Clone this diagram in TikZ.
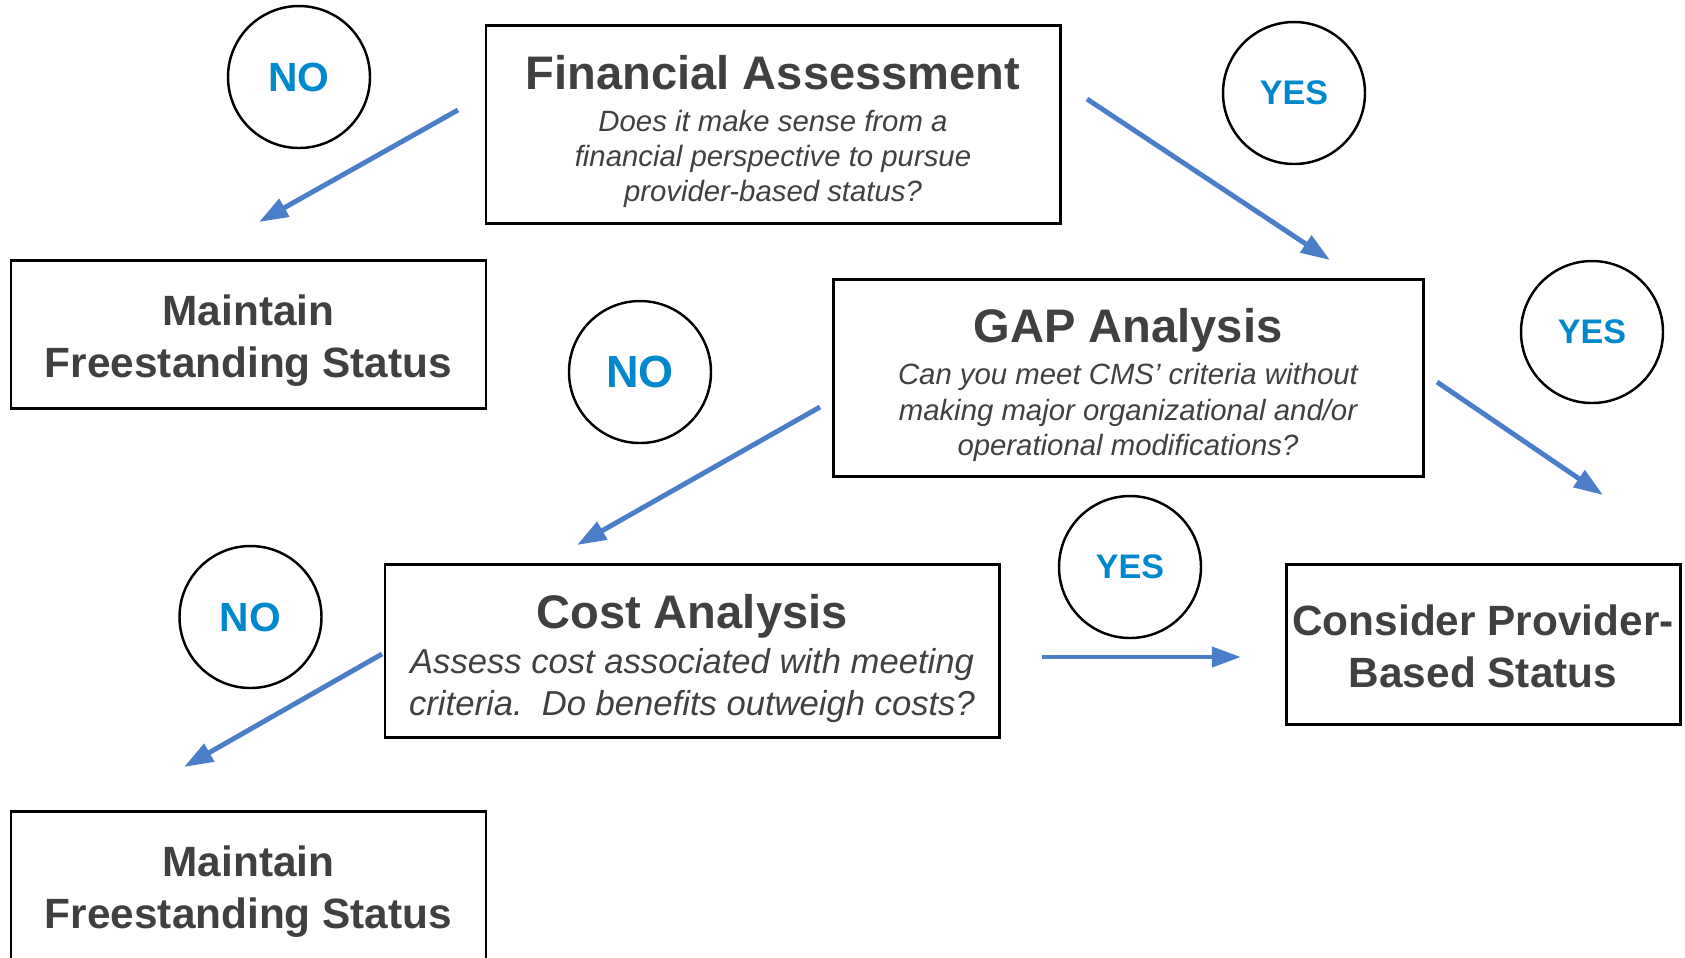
\documentclass[tikz,border=0pt]{standalone}
\usepackage{fontspec}
\setmainfont{Liberation Sans}
\usetikzlibrary{arrows.meta}
\definecolor{inkgray}{HTML}{404040}
\definecolor{answerblue}{HTML}{0088CC}
\definecolor{flowblue}{HTML}{4A7EC8}
\newcommand{\headfont}{\fontsize{13.4}{16}\selectfont\bfseries\upshape}
\newcommand{\topstrut}{\rule{0pt}{1.05em}}
\newcommand{\botstrut}{\rule[-0.212em]{0pt}{0.212em}}

\begin{document}
\begin{tikzpicture}[
    stepbox/.style={rectangle, draw=black, line width=0.85pt, inner sep=0pt, align=center, text=inkgray},
    question/.style={stepbox, font=\fontsize{8.35}{10}\selectfont\itshape},
    outcome/.style={stepbox, font=\fontsize{12.05}{14.7}\selectfont\bfseries},
    answer/.style={circle, draw=black, line width=0.7pt, minimum size=1.42cm, inner sep=0pt,
        text=answerblue, font=\fontsize{#1}{#1}\selectfont\bfseries},
    flow/.style={draw=flowblue, line width=1.4pt, -{Triangle[length=8.3pt, width=5.6pt]}}
]
    \useasboundingbox (0,0) rectangle (16.85,-9.57);

    % Question boxes
    \node[question, minimum width=5.74cm, minimum height=1.98cm] (fa) at (7.73,-1.24)
        {{\headfont\topstrut Financial Assessment}\\[1.95pt]
         Does it make sense from a\\
         financial perspective to pursue\\
         provider-based status?\botstrut};
    \node[question, minimum width=5.90cm, minimum height=1.97cm] (gap) at (11.28,-3.775)
        {{\headfont\topstrut GAP Analysis}\\[1.95pt]
         Can you meet CMS’ criteria without\\
         making major organizational and/or\\
         operational modifications?\botstrut};
    \node[question, font=\fontsize{9.85}{11.95}\selectfont\itshape,
          minimum width=6.14cm, minimum height=1.73cm] (cost) at (6.92,-6.505)
        {{\headfont\topstrut Cost Analysis}\\[0.85pt]
         Assess cost associated with meeting\\
         criteria.\ \ Do benefits outweigh costs?\botstrut};

    % Outcome boxes
    \node[outcome, minimum width=4.75cm, minimum height=1.48cm] (keep1) at (2.485,-3.34)
        {\topstrut Maintain\\Freestanding Status\botstrut};
    \node[outcome, minimum width=4.75cm, minimum height=1.48cm] (keep2) at (2.485,-8.85)
        {\topstrut Maintain\\Freestanding Status\botstrut};
    \node[outcome, minimum width=3.94cm, minimum height=1.60cm] (pbs) at (14.83,-6.44)
        {\topstrut Consider Provider-\\Based Status\botstrut};

    % Answers
    \node[answer=11.6] (no1) at (2.99,-0.77) {NO};
    \node[answer=9.7] (yes1) at (12.94,-0.93) {YES};
    \node[answer=12.8] (no2) at (6.40,-3.72) {NO};
    \node[answer=9.7] (yes2) at (15.92,-3.32) {YES};
    \node[answer=11.6] (no3) at (2.505,-6.17) {NO};
    \node[answer=9.7] (yes3) at (11.30,-5.67) {YES};

    % Arrow ends
    \coordinate (fa-no) at (4.58,-1.10);
    \coordinate (keep1-in) at (2.59,-2.22);
    \coordinate (fa-yes) at (10.87,-0.99);
    \coordinate (gap-in) at (13.30,-2.60);
    \coordinate (gap-no) at (8.20,-4.07);
    \coordinate (cost-in) at (5.77,-5.45);
    \coordinate (gap-yes) at (14.37,-3.82);
    \coordinate (pbs-in1) at (16.03,-4.95);
    \coordinate (cost-no) at (3.82,-6.54);
    \coordinate (keep2-in) at (1.84,-7.67);
    \coordinate (cost-yes) at (10.42,-6.57);
    \coordinate (pbs-in2) at (12.41,-6.57);

    \foreach \a/\b in {fa-no/keep1-in, fa-yes/gap-in, gap-no/cost-in,
                       gap-yes/pbs-in1, cost-no/keep2-in, cost-yes/pbs-in2}
        \draw[flow] (\a) -- (\b);
\end{tikzpicture}
\end{document}
